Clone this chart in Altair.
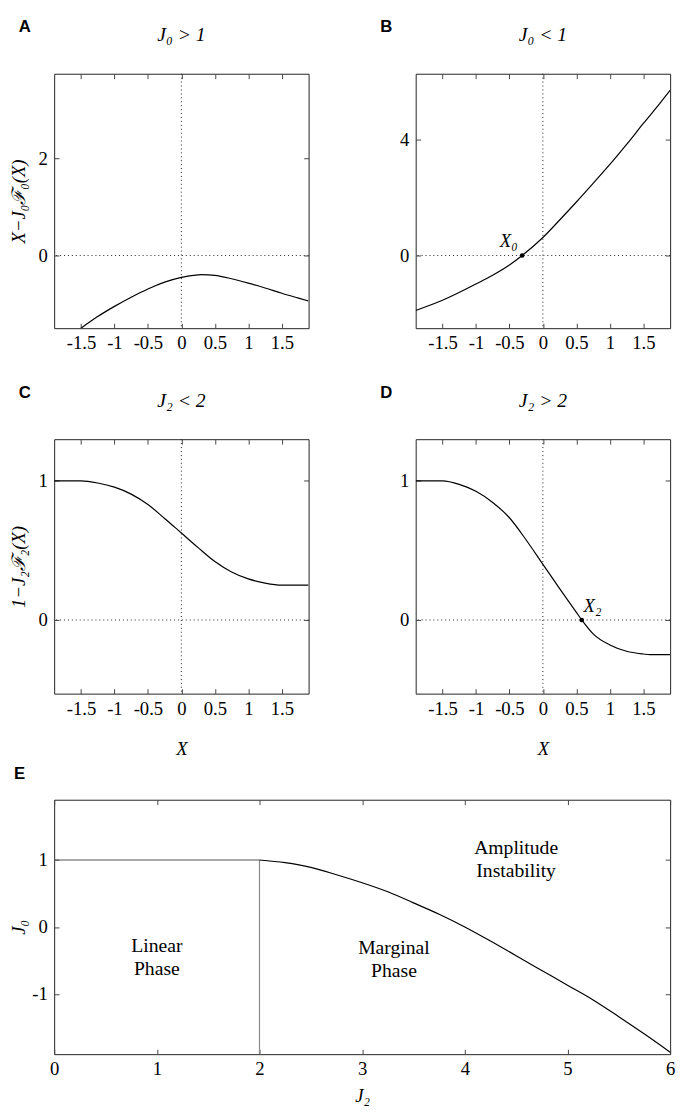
import altair as alt
import pandas as pd

# ---------------- data ----------------
# Panel A : X - J0 F0(X), J0 > 1
A_x = [-1.5, -1.25, -1.0, -0.75, -0.5, -0.25, 0.0, 0.25, 0.3, 0.5, 0.75, 1.0, 1.25, 1.5, 1.75, 1.9]
A_y = [-1.50, -1.26, -1.05, -0.86, -0.69, -0.55, -0.45, -0.40, -0.395, -0.41, -0.48, -0.57, -0.67, -0.78, -0.88, -0.94]

# Panel B : J0 < 1
B_x = [-1.9, -1.5, -1.0, -0.75, -0.5, -0.31, 0.0, 0.25, 0.5, 0.75, 1.0, 1.25, 1.5, 1.75, 1.9]
B_y = [-1.89, -1.54, -0.98, -0.68, -0.33, 0.0, 0.62, 1.22, 1.84, 2.48, 3.13, 3.82, 4.54, 5.24, 5.68]
B_pt_x = [-0.31]
B_pt_y = [0.0]
B_lab = ["X₀"]
B_lab_x = [-0.51]
B_lab_y = [0.30]

# Panel C : 1 - J2 F2(X), J2 < 2
C_x = [-1.9, -1.5, -1.25, -1.0, -0.75, -0.5, -0.25, 0.0, 0.25, 0.5, 0.75, 1.0, 1.25, 1.5, 1.9]
C_y = [1.0, 1.0, 0.985, 0.955, 0.905, 0.83, 0.73, 0.625, 0.52, 0.42, 0.345, 0.295, 0.265, 0.25, 0.25]

# Panel D : J2 > 2
D_x = [-1.9, -1.5, -1.25, -1.0, -0.75, -0.5, -0.25, 0.0, 0.25, 0.5, 0.58, 0.75, 1.0, 1.25, 1.5, 1.6, 1.9]
D_y = [1.0, 1.0, 0.975, 0.925, 0.845, 0.735, 0.575, 0.40, 0.225, 0.055, 0.0, -0.10, -0.18, -0.225, -0.245, -0.25, -0.25]
D_pt_x = [0.58]
D_pt_y = [0.0]
D_lab = ["X₂"]
D_lab_x = [0.74]
D_lab_y = [0.06]

# Panel E : phase diagram (J2, J0)
E_flat_x = [0.0, 2.0]
E_flat_y = [1.0, 1.0]
E_vert_x = [2.0, 2.0]
E_vert_y = [-1.9, 1.0]
E_curve_x = [2.0, 2.25, 2.5, 2.75, 3.0, 3.25, 3.5, 3.75, 4.0, 4.25, 4.5, 4.75, 5.0, 5.25, 5.5, 5.75, 6.0]
E_curve_y = [1.0, 0.96, 0.89, 0.78, 0.66, 0.525, 0.36, 0.19, 0.0, -0.21, -0.43, -0.65, -0.87, -1.09, -1.34, -1.60, -1.87]
E_lab = ["Linear\nPhase", "Marginal\nPhase", "Amplitude\nInstability"]
E_lab_x = [1.0, 3.31, 4.5]
E_lab_y = [-0.38, -0.41, 1.09]

XTICKS = [-1.5, -1.0, -0.5, 0.0, 0.5, 1.0, 1.5]

# ---------------- styling ----------------
SERIF = "Liberation Serif"
SANS = "Liberation Sans"
W, H, WE = 259, 259, 627


def axis(orient, values, labels=True, title=None, title_pad=3):
    kw = dict(orient=orient, values=values, offset=-5, tickSize=5, tickWidth=1,
              tickColor="#444", domain=False, grid=False, labels=labels,
              title=title)
    if labels:
        kw.update(labelExpr="'' + datum.value", labelFont=SERIF, labelFontSize=19,
                  labelColor="black", labelOverlap=False, labelFlush=False,
                  labelPadding=6 if orient in ("bottom", "top") else 7)
    if title is not None:
        kw.update(titleFont=SERIF, titleFontSize=19, titleFontStyle="italic",
                  titleFontWeight="normal", titleColor="black", titlePadding=title_pad)
    if orient == "left":
        kw.update(minExtent=28, maxExtent=28)
    return alt.Axis(**kw)


def letter(ch, dx=-36, dy=-42):
    return alt.Chart(pd.DataFrame({"t": [ch]})).mark_text(
        font=SANS, fontSize=17, fontWeight="bold", align="left", baseline="alphabetic",
        color="black").encode(x=alt.value(dx), y=alt.value(dy), text="t:N")


def heading(txt):
    return alt.Chart(pd.DataFrame({"t": [txt]})).mark_text(
        font=SERIF, fontSize=20, fontStyle="italic", align="center", baseline="alphabetic",
        color="black").encode(x=alt.value(W / 2), y=alt.value(-33), text="t:N")


def small_panel(xs, ys, ydom, yticks, ytitle, xtitle, title, let,
                pt_x=None, pt_y=None, lab=None, lab_x=None, lab_y=None):
    xsc = alt.Scale(domain=[-1.9, 1.9], nice=False, zero=False)
    ysc = alt.Scale(domain=ydom, nice=False, zero=False)
    df = pd.DataFrame({"x": xs, "y": ys})
    line = alt.Chart(df).mark_line(color="black", strokeWidth=1.2, clip=True,
                                   interpolate="monotone").encode(
        x=alt.X("x:Q", scale=xsc, axis=axis("bottom", XTICKS, title=xtitle, title_pad=22)),
        y=alt.Y("y:Q", scale=ysc, axis=axis("left", yticks, title=ytitle)),
    )
    vrule = alt.Chart(pd.DataFrame({"x": [0.0]})).mark_rule(
        color="#222", strokeWidth=1, strokeDash=[1, 3]).encode(
        x=alt.X("x:Q", scale=xsc, axis=axis("top", XTICKS, labels=False)))
    hrule = alt.Chart(pd.DataFrame({"y": [0.0]})).mark_rule(
        color="#222", strokeWidth=1, strokeDash=[1, 3]).encode(
        y=alt.Y("y:Q", scale=ysc, axis=axis("right", yticks, labels=False)))
    layers = [vrule, hrule, line]
    if pt_x is not None:
        pts = alt.Chart(pd.DataFrame({"x": pt_x, "y": pt_y})).mark_circle(
            size=22, color="black", opacity=1).encode(
            x=alt.X("x:Q", scale=xsc, axis=None), y=alt.Y("y:Q", scale=ysc, axis=None))
        labs = alt.Chart(pd.DataFrame({"x": lab_x, "y": lab_y, "t": lab})).mark_text(
            font=SERIF, fontSize=19, fontStyle="italic", align="center",
            baseline="alphabetic", color="black").encode(
            x=alt.X("x:Q", scale=xsc, axis=None), y=alt.Y("y:Q", scale=ysc, axis=None),
            text="t:N")
        layers += [pts, labs]
    layers += [letter(let), heading(title)]
    return alt.layer(*layers).resolve_axis(x="independent", y="independent").properties(
        width=W, height=H)


A = small_panel(A_x, A_y, [-1.5, 3.75], [0, 2], "X−J₀ℱ₀(X)", None, "J₀ > 1", "A")
B = small_panel(B_x, B_y, [-2.5, 6.25], [0, 4], None, None, "J₀ < 1", "B",
                B_pt_x, B_pt_y, B_lab, B_lab_x, B_lab_y)
C = small_panel(C_x, C_y, [-0.53, 1.3], [0, 1], "1−J₂ℱ₂(X)", "X", "J₂ < 2", "C")
D = small_panel(D_x, D_y, [-0.53, 1.3], [0, 1], None, "X", "J₂ > 2", "D",
                D_pt_x, D_pt_y, D_lab, D_lab_x, D_lab_y)

# ---------------- panel E ----------------
exs = alt.Scale(domain=[0, 6], nice=False, zero=False)
eys = alt.Scale(domain=[-1.9, 1.9], nice=False, zero=False)
E_XT = [0, 1, 2, 3, 4, 5, 6]
E_YT = [-1, 0, 1]
e_flat = alt.Chart(pd.DataFrame({"x": E_flat_x, "y": E_flat_y})).mark_line(
    color="#555", strokeWidth=1.2).encode(
    x=alt.X("x:Q", scale=exs, axis=axis("bottom", E_XT, title="J₂", title_pad=8)),
    y=alt.Y("y:Q", scale=eys, axis=axis("left", E_YT, title="J₀")))
e_vert = alt.Chart(pd.DataFrame({"x": E_vert_x, "y": E_vert_y})).mark_line(
    color="#888", strokeWidth=1.2).encode(
    x=alt.X("x:Q", scale=exs, axis=None), y=alt.Y("y:Q", scale=eys, axis=None))
e_curve = alt.Chart(pd.DataFrame({"x": E_curve_x, "y": E_curve_y})).mark_line(
    color="black", strokeWidth=1.2, interpolate="monotone", clip=True).encode(
    x=alt.X("x:Q", scale=exs, axis=None), y=alt.Y("y:Q", scale=eys, axis=None))
e_text = alt.Chart(pd.DataFrame({"x": E_lab_x, "y": E_lab_y, "t": E_lab})).mark_text(
    font=SERIF, fontSize=20, align="center", baseline="alphabetic", lineBreak="\n",
    lineHeight=23, color="black").encode(
    x=alt.X("x:Q", scale=exs, axis=axis("top", E_XT, labels=False)),
    y=alt.Y("y:Q", scale=eys, axis=axis("right", E_YT, labels=False)),
    text="t:N")
E = alt.layer(e_flat, e_vert, e_curve, e_text, letter("E", -41, -21)).resolve_axis(
    x="independent", y="independent").properties(width=WE, height=H)

row1 = alt.hconcat(A, B, spacing=109, bounds="flush")
row2 = alt.hconcat(C, D, spacing=109, bounds="flush")
top = alt.vconcat(row1, row2, spacing=30)
chart = alt.vconcat(top, E, spacing=5).properties(
    padding={"left": 1, "top": 0, "right": 1, "bottom": 0}
).configure_view(stroke="#222", strokeWidth=1).configure_concat(spacing=10)

chart.save("out.html", embed_options={"renderer": "svg", "actions": False})
